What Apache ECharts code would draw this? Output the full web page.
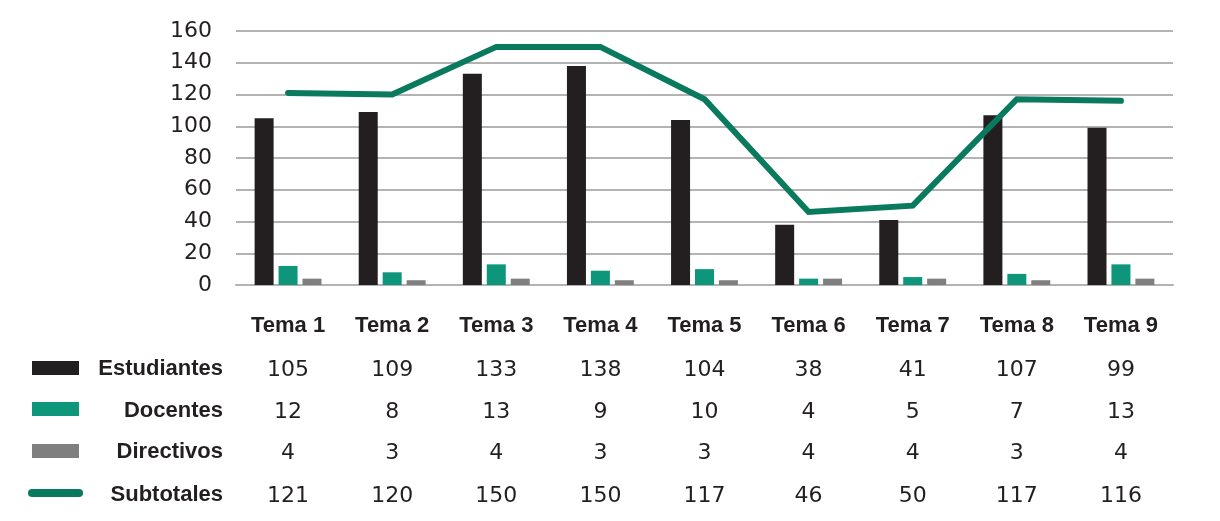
<!DOCTYPE html>
<html>
<head>
<meta charset="utf-8">
<script src="https://cdn.jsdelivr.net/npm/echarts@6/dist/echarts.min.js"></script>
<style>
html,body{margin:0;padding:0;background:#fff;}
#c{width:1220px;height:521px;}
</style>
</head>
<body>
<div id="c"></div>
<script>
var categories = ['Tema 1','Tema 2','Tema 3','Tema 4','Tema 5','Tema 6','Tema 7','Tema 8','Tema 9'];
var estudiantes = [105,109,133,138,104,38,41,107,99];
var docentes = [12,8,13,9,10,4,5,7,13];
var directivos = [4,3,4,3,3,4,4,3,4];
var subtotales = [121,120,150,150,117,46,50,117,116];
var seriesNames = ['Estudiantes','Docentes','Directivos','Subtotales'];
var yTicks = [0,20,40,60,80,100,120,140,160];

var COL_EST = '#231f20', COL_DOC = '#0e967a', COL_DIR = '#7f7f80', COL_SUB = '#0a7a5f';
var TXT = '#231f20';
var NUMFONT = 'DejaVu Sans';
var BOLDFONT = 'Liberation Sans';

var chart = echarts.init(document.getElementById('c'));

var rows = [estudiantes, docentes, directivos, subtotales];
var rowMargins = [85, 127, 168, 211];

var xAxes = [{
  type: 'category', data: categories, gridIndex: 0,
  axisLine: {show: true, lineStyle: {color: '#b3b3b3', width: 2}},
  axisTick: {show: false},
  axisLabel: {interval: 0, margin: 41, verticalAlign: 'middle', fontFamily: BOLDFONT, fontWeight: 'bold', fontSize: 22, color: TXT}
}];
rows.forEach(function(arr, r){
  xAxes.push({
    type: 'category', data: categories, gridIndex: 0, position: 'bottom',
    axisLine: {show: false}, axisTick: {show: false}, splitLine: {show: false},
    axisLabel: {interval: 0, margin: rowMargins[r], verticalAlign: 'middle', fontFamily: NUMFONT, fontSize: 22, color: TXT,
      formatter: function(v, i){ return String(arr[i]); }}
  });
});

var graphics = [];
var rowY = [368, 410, 451, 494];
seriesNames.forEach(function(name, r){
  graphics.push({type: 'text', right: 1220 - 223, top: rowY[r] - 10,
    style: {text: name, font: 'bold 22px "' + BOLDFONT + '"', fill: TXT, textAlign: 'right'}});
});
graphics.push({type: 'rect', left: 32, top: 361, shape: {width: 47, height: 14}, style: {fill: COL_EST}});
graphics.push({type: 'rect', left: 32, top: 402, shape: {width: 47, height: 14}, style: {fill: COL_DOC}});
graphics.push({type: 'rect', left: 32, top: 444, shape: {width: 47, height: 14}, style: {fill: COL_DIR}});
graphics.push({type: 'line', shape: {x1: 32, y1: 493, x2: 79, y2: 493}, style: {stroke: COL_SUB, lineWidth: 8, lineCap: 'round'}});

chart.setOption({
  animation: false,
  grid: {left: 236, right: 47, top: 31, bottom: 236},
  xAxis: xAxes,
  yAxis: {
    type: 'value', min: 0, max: 160, interval: 20,
    axisLine: {show: false}, axisTick: {show: false},
    splitLine: {lineStyle: {color: '#b3b3b3', width: 2}},
    axisLabel: {margin: 24, fontFamily: NUMFONT, fontSize: 22, color: TXT, padding: [4, 0, 0, 0],
      formatter: function(v){ return yTicks.indexOf(v) >= 0 ? String(v) : ''; }}
  },
  graphic: graphics,
  series: [
    {name: seriesNames[0], type: 'bar', data: estudiantes, barWidth: 19, barGap: '26%', itemStyle: {color: COL_EST}},
    {name: seriesNames[1], type: 'bar', data: docentes, barWidth: 19, barGap: '26%', itemStyle: {color: COL_DOC}},
    {name: seriesNames[2], type: 'bar', data: directivos, barWidth: 19, barGap: '26%', itemStyle: {color: COL_DIR}},
    {name: seriesNames[3], type: 'line', data: subtotales, symbol: 'none',
      lineStyle: {color: COL_SUB, width: 6, cap: 'round', join: 'miter'}, z: 5}
  ]
});
</script>
</body>
</html>
